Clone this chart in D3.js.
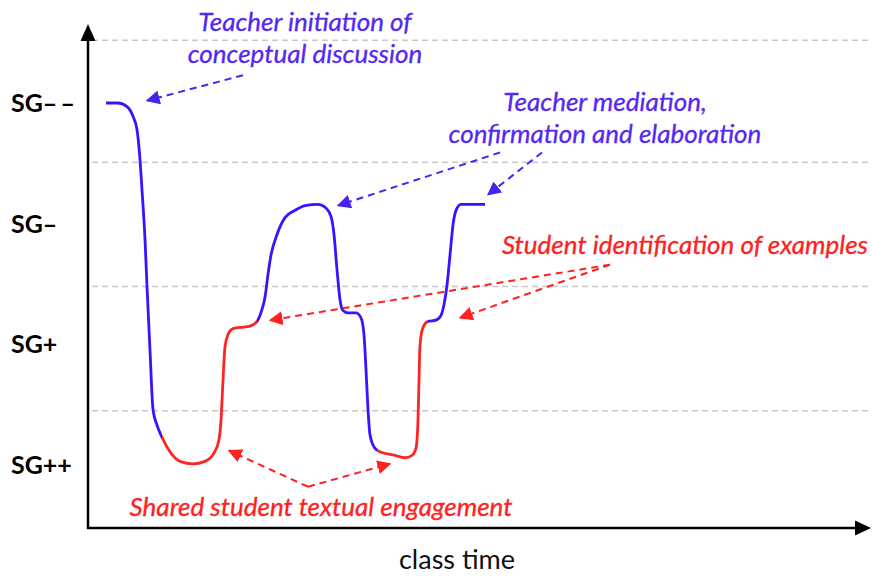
<!DOCTYPE html>
<meta charset="utf-8">
<style>
body { margin: 0; background: #fff; }
.grid { stroke: #c8c8c8; stroke-width: 1.5px; stroke-dasharray: 6 4; }
.axis { stroke: #000; stroke-width: 2.5px; }
.level { font-family: Lato, "Open Sans", sans-serif; font-weight: bold; font-size: 25px; fill: #000; }
.note { font-family: Lato, "Open Sans", sans-serif; font-style: italic; font-size: 26px; stroke-width: 0.3px; }
.blue { fill: #5428f2; stroke: #5428f2; }
.red { fill: #ff2020; stroke: #ff2020; }
.xlabel { font-family: Lato, "Open Sans", sans-serif; font-size: 27px; fill: #111; }
</style>
<body>
<script src="https://cdn.jsdelivr.net/npm/d3@7/dist/d3.min.js"></script>
<script>

var width = 872,
    height = 576;

// stance levels, 0 = SG++ ... 3 = SG--
var levels = [0, 1, 2, 3],
    levelLabels = ["SG++", "SG+", "SG\u2013", "SG\u2013\u2009\u2013"],
    gridLevels = [0.45, 1.48, 2.51, 3.52];

// class time (arbitrary units) and stance level
var time = [1.8, 3.0, 3.9, 4.5, 4.9, 5.2, 5.4, 5.7, 5.9, 6.2,
            6.5, 6.9, 7.4, 8.2, 9.2, 10.5, 11.7, 12.6, 13.1, 13.3,
            13.5, 13.7, 14.0, 14.5, 15.2, 16.2, 16.9, 17.4, 17.7, 18.0,
            18.3, 18.9, 19.7, 20.7, 21.7, 23.0, 23.8, 24.3, 24.6, 24.9,
            25.2, 25.5, 26.0, 26.8, 27.3, 27.6, 27.8, 28.0, 28.2, 28.6,
            29.2, 30.7, 31.7, 32.4, 32.8, 33.0, 33.1, 33.2, 33.5, 34.0,
            34.8, 35.3, 35.6, 35.9, 36.2, 36.5, 36.8, 37.3, 38.2, 39.7];
var stance = [3.00, 3.00, 2.97, 2.89, 2.78, 2.53, 2.28, 1.87, 1.48, 0.95,
              0.46, 0.33, 0.23, 0.11, 0.03, 0.01, 0.03, 0.10, 0.21, 0.37,
              0.70, 0.98, 1.08, 1.13, 1.14, 1.15, 1.19, 1.29, 1.39, 1.58,
              1.74, 1.91, 2.05, 2.11, 2.15, 2.16, 2.13, 2.06, 1.91, 1.62,
              1.37, 1.28, 1.26, 1.26, 1.22, 1.08, 0.79, 0.46, 0.25, 0.15,
              0.11, 0.08, 0.06, 0.08, 0.14, 0.37, 0.70, 0.99, 1.14, 1.19,
              1.20, 1.24, 1.33, 1.49, 1.74, 1.99, 2.11, 2.16, 2.16, 2.16];

// who drives each stretch of the trace
var segStart = [0, 7.4, 16.9, 28.9, 34.0],
    segEnd = [7.4, 16.9, 28.9, 34.0, 78],
    segWho = ["teacher", "student", "teacher", "student", "teacher"];

var colour = { teacher: "#3a12ff", student: "#ff2424" };

var x = d3.scaleLinear().domain([0, 78]).range([88, 868]),
    y = d3.scaleLinear().domain([0, 3]).range([465, 103]);

var svg = d3.select("body").append("svg")
    .attr("width", width)
    .attr("height", height);

var defs = svg.append("defs");
["blue", "red"].forEach(function(c) {
  defs.append("marker")
      .attr("id", "head-" + c)
      .attr("viewBox", "0 0 10 10")
      .attr("refX", 9).attr("refY", 5)
      .attr("markerWidth", 7).attr("markerHeight", 7)
      .attr("markerUnits", "strokeWidth")
      .attr("orient", "auto")
    .append("path")
      .attr("d", "M10,5L0,0L0,10Z")
      .attr("fill", c == "blue" ? "#4a22f0" : "#ff2020");
});

// grid
svg.selectAll(".grid")
    .data(gridLevels)
  .enter().append("line")
    .attr("class", "grid")
    .attr("x1", x(0) + 4).attr("x2", width)
    .attr("y1", y).attr("y2", y);

// axes with arrowheads
svg.append("line").attr("class", "axis")
    .attr("x1", x(0)).attr("x2", x(0))
    .attr("y1", 529).attr("y2", 38);
svg.append("path")
    .attr("d", "M" + x(0) + ",24L" + (x(0) - 7.5) + ",41L" + (x(0) + 7.5) + ",41Z");
svg.append("line").attr("class", "axis")
    .attr("x1", x(0) - 1).attr("x2", 858)
    .attr("y1", 528).attr("y2", 528);
svg.append("path")
    .attr("d", "M871,528L855,520.5L855,535.5Z");

svg.selectAll(".level")
    .data(levels)
  .enter().append("text")
    .attr("class", "level")
    .attr("x", 11)
    .attr("y", function(d) { return y(d) + 9; })
    .text(function(d, i) { return levelLabels[i]; });

// trace
var pts = time.map(function(t, i) { return [t, stance[i]]; });
var line = d3.line()
    .x(function(d) { return x(d[0]); })
    .y(function(d) { return y(d[1]); })
    .curve(d3.curveMonotoneX);

segWho.forEach(function(w, i) {
  defs.append("clipPath").attr("id", "seg" + i)
    .append("rect")
      .attr("x", x(segStart[i])).attr("y", 0)
      .attr("width", x(segEnd[i]) - x(segStart[i]))
      .attr("height", height);
  svg.append("path")
      .datum(pts)
      .attr("clip-path", "url(#seg" + i + ")")
      .attr("fill", "none")
      .attr("stroke", colour[w])
      .attr("stroke-width", 2.8)
      .attr("d", line);
});

// annotations: [fromTime, fromLevel, toTime, toLevel]
var arrows = [
  ["blue", 15.5, 3.23, 5.9, 3.02],
  ["blue", 41.2, 2.59, 25.0, 2.15],
  ["blue", 45.4, 2.59, 40.0, 2.24],
  ["red", 52.2, 1.66, 18.2, 1.20],
  ["red", 52.2, 1.66, 37.2, 1.22],
  ["red", 22.0, -0.18, 14.1, 0.12],
  ["red", 22.0, -0.18, 30.2, 0.01]
];

svg.selectAll(".arrow")
    .data(arrows)
  .enter().append("line")
    .attr("class", "arrow")
    .attr("x1", function(d) { return x(d[1]); })
    .attr("y1", function(d) { return y(d[2]); })
    .attr("x2", function(d) { return x(d[3]); })
    .attr("y2", function(d) { return y(d[4]); })
    .attr("stroke", function(d) { return d[0] == "blue" ? "#4a22f0" : "#ff2020"; })
    .attr("stroke-width", 2)
    .attr("stroke-dasharray", "7 5")
    .attr("marker-end", function(d) { return "url(#head-" + d[0] + ")"; });

var notes = [
  ["blue", "middle", 21.7, 3.60, ["Teacher initiation of", "conceptual discussion"]],
  ["blue", "middle", 51.7, 2.93, ["Teacher mediation,", "confirmation and elaboration"]],
  ["red", "end", 78, 1.75, ["Student identification of examples"]],
  ["red", "middle", 23.3, -0.42, ["Shared student textual engagement"]]
];

notes.forEach(function(n) {
  var t = svg.append("text")
      .attr("class", "note " + n[0])
      .attr("text-anchor", n[1])
      .attr("x", x(n[2]))
      .attr("y", y(n[3]));
  n[4].forEach(function(s, i) {
    t.append("tspan")
        .attr("x", x(n[2]))
        .attr("dy", i ? 32 : 0)
        .text(s);
  });
});

svg.append("text")
    .attr("class", "xlabel")
    .attr("text-anchor", "middle")
    .attr("x", 457)
    .attr("y", 569)
    .text("class time");

</script>
